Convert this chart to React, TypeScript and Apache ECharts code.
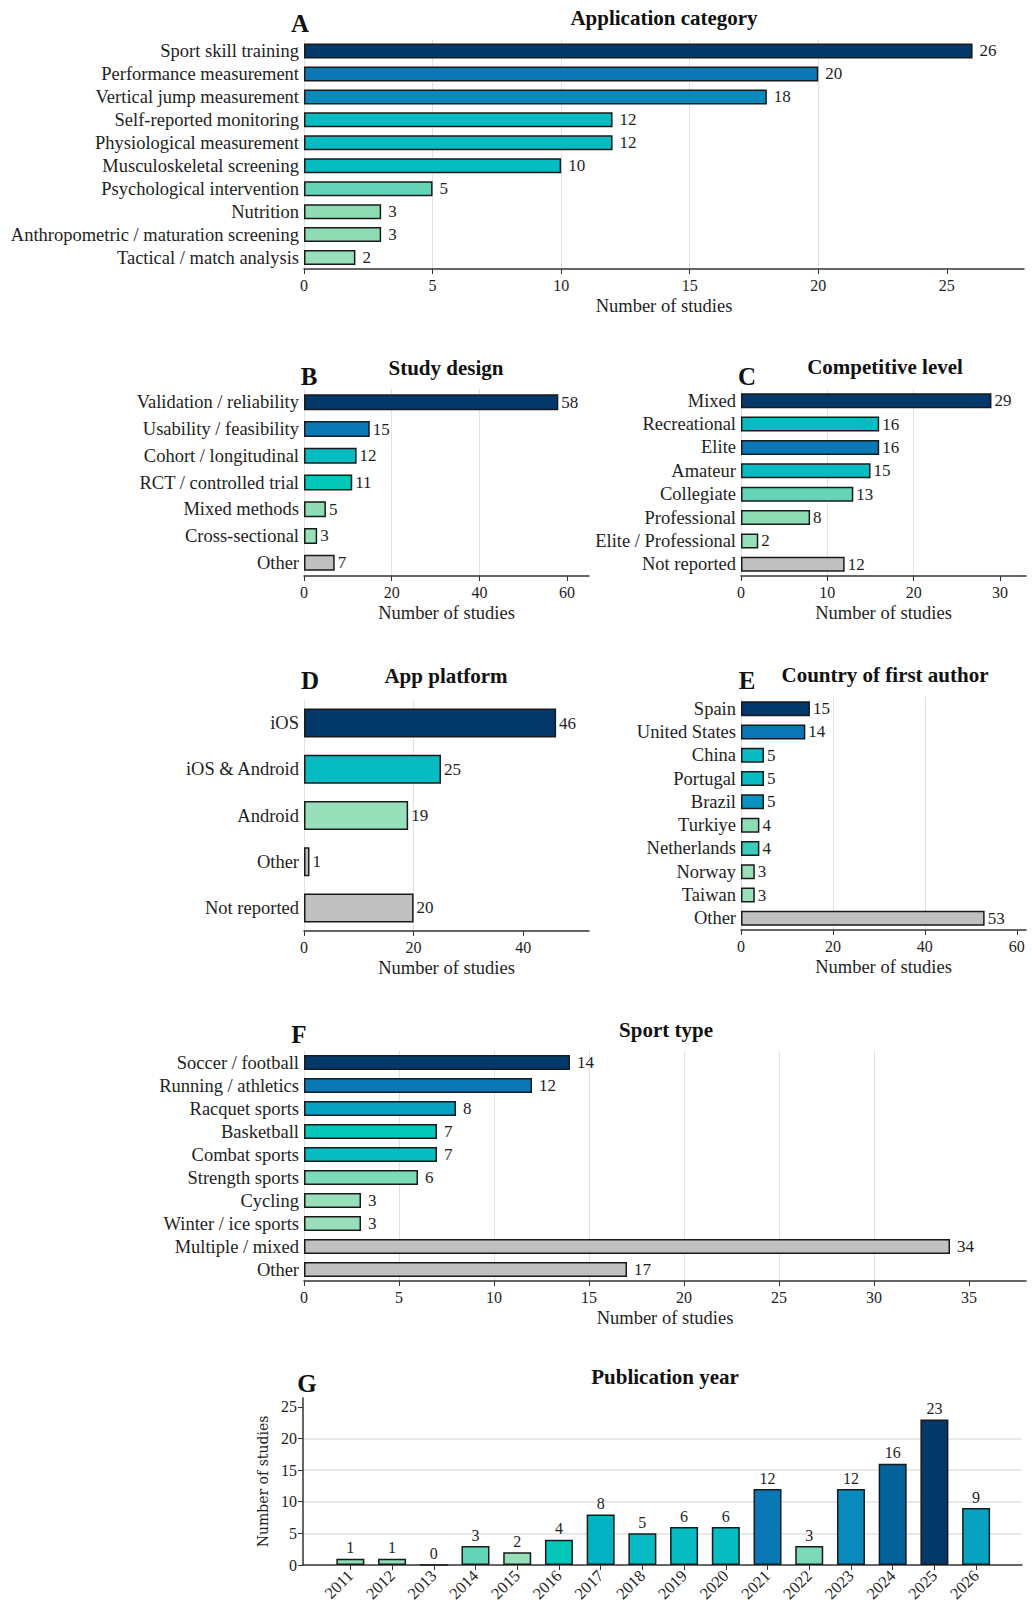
import { useEffect, useRef } from "react";
import * as echarts from "echarts";

// A — application category
const appCategories = [
  "Sport skill training",
  "Performance measurement",
  "Vertical jump measurement",
  "Self-reported monitoring",
  "Physiological measurement",
  "Musculoskeletal screening",
  "Psychological intervention",
  "Nutrition",
  "Anthropometric / maturation screening",
  "Tactical / match analysis",
];
const appCounts = [26, 20, 18, 12, 12, 10, 5, 3, 3, 2];
const appTicks = [0, 5, 10, 15, 20, 25];

// B — study design
const designCategories = [
  "Validation / reliability",
  "Usability / feasibility",
  "Cohort / longitudinal",
  "RCT / controlled trial",
  "Mixed methods",
  "Cross-sectional",
  "Other",
];
const designCounts = [58, 15, 12, 11, 5, 3, 7];
const designTicks = [0, 20, 40, 60];

// C — competitive level
const levelCategories = [
  "Mixed",
  "Recreational",
  "Elite",
  "Amateur",
  "Collegiate",
  "Professional",
  "Elite / Professional",
  "Not reported",
];
const levelCounts = [29, 16, 16, 15, 13, 8, 2, 12];
const levelTicks = [0, 10, 20, 30];

// D — app platform
const platformCategories = ["iOS", "iOS & Android", "Android", "Other", "Not reported"];
const platformCounts = [46, 25, 19, 1, 20];
const platformTicks = [0, 20, 40];

// E — country of first author
const countryCategories = [
  "Spain",
  "United States",
  "China",
  "Portugal",
  "Brazil",
  "Turkiye",
  "Netherlands",
  "Norway",
  "Taiwan",
  "Other",
];
const countryCounts = [15, 14, 5, 5, 5, 4, 4, 3, 3, 53];
const countryTicks = [0, 20, 40, 60];

// F — sport type
const sportCategories = [
  "Soccer / football",
  "Running / athletics",
  "Racquet sports",
  "Basketball",
  "Combat sports",
  "Strength sports",
  "Cycling",
  "Winter / ice sports",
  "Multiple / mixed",
  "Other",
];
const sportCounts = [14, 12, 8, 7, 7, 6, 3, 3, 34, 17];
const sportTicks = [0, 5, 10, 15, 20, 25, 30, 35];

// G — publication year
const years = [
  "2011", "2012", "2013", "2014", "2015", "2016", "2017", "2018",
  "2019", "2020", "2021", "2022", "2023", "2024", "2025", "2026",
];
const yearCounts = [1, 1, 0, 3, 2, 4, 8, 5, 6, 6, 12, 3, 12, 16, 23, 9];
const yearTicks = [0, 5, 10, 15, 20, 25];

// palette
const NAVY = "#03386b";
const DEEP = "#04629a";
const BLUE = "#0a78b4";
const BLUE_MID = "#0a89bd";
const BLUE_LIGHT = "#0a93bf";
const CYAN = "#07a2c2";
const TEAL_2017 = "#03b3c2";
const TEAL = "#06bcc2";
const TEAL_GREEN = "#02c7b9";
const AQUA = "#3ccbbb";
const MINT = "#64d4b9";
const MINT_2 = "#7ddab8";
const GREEN = "#8ddcb4";
const GREEN_LIGHT = "#97e0b9";
const GRAY = "#c0c0c0";

const appColors = [NAVY, BLUE, BLUE_MID, TEAL, TEAL, TEAL, MINT, GREEN, GREEN, GREEN_LIGHT];
const designColors = [NAVY, BLUE, TEAL, TEAL_GREEN, GREEN, GREEN_LIGHT, GRAY];
const levelColors = [NAVY, TEAL, BLUE, TEAL, MINT, GREEN, GREEN_LIGHT, GRAY];
const platformColors = [NAVY, TEAL, GREEN_LIGHT, GRAY, GRAY];
const countryColors = [NAVY, BLUE, TEAL, TEAL, BLUE_LIGHT, GREEN, AQUA, GREEN_LIGHT, GREEN_LIGHT, GRAY];
const sportColors = [NAVY, BLUE, CYAN, TEAL_GREEN, TEAL, MINT_2, GREEN_LIGHT, GREEN_LIGHT, GRAY, GRAY];
const yearColors = [
  GREEN, GREEN, GREEN, MINT, GREEN_LIGHT, TEAL_GREEN, TEAL_2017, TEAL,
  TEAL, TEAL, BLUE, MINT_2, BLUE_MID, DEEP, NAVY, CYAN,
];

const FONT = "Liberation Serif";
const INK = "#1e1e1e";
const AXIS = "#333";
const GRID = "#e2e2e2";
const EDGE = "#1a1a1a";

type Panel = {
  cats: string[];
  vals: number[];
  colors: string[];
  ticks: number[];
  max: number;
  interval: number;
  grid: { left: number; top: number; width: number; height: number };
  barWidth: number;
  labelGap: number;
};

const panels: Panel[] = [
  { cats: appCategories, vals: appCounts, colors: appColors, ticks: appTicks, max: 28, interval: 5,
    grid: { left: 304, top: 39.5, width: 720, height: 229.5 }, barWidth: 15, labelGap: 7 },
  { cats: designCategories, vals: designCounts, colors: designColors, ticks: designTicks, max: 65, interval: 20,
    grid: { left: 304, top: 389, width: 285, height: 187 }, barWidth: 16, labelGap: 3 },
  { cats: levelCategories, vals: levelCounts, colors: levelColors, ticks: levelTicks, max: 33, interval: 10,
    grid: { left: 741, top: 389, width: 285, height: 187 }, barWidth: 15, labelGap: 3 },
  { cats: platformCategories, vals: platformCounts, colors: platformColors, ticks: platformTicks, max: 52, interval: 20,
    grid: { left: 304, top: 700, width: 285, height: 231 }, barWidth: 29, labelGap: 3 },
  { cats: countryCategories, vals: countryCounts, colors: countryColors, ticks: countryTicks, max: 62, interval: 20,
    grid: { left: 741, top: 697, width: 285, height: 233 }, barWidth: 15, labelGap: 3 },
  { cats: sportCategories, vals: sportCounts, colors: sportColors, ticks: sportTicks, max: 38, interval: 5,
    grid: { left: 304, top: 1051, width: 722, height: 230 }, barWidth: 15, labelGap: 7 },
];

const headings = [
  { text: "Application category", x: 664, y: 19 },
  { text: "Study design", x: 446, y: 369 },
  { text: "Competitive level", x: 885, y: 368 },
  { text: "App platform", x: 446, y: 677 },
  { text: "Country of first author", x: 885, y: 676 },
  { text: "Sport type", x: 666, y: 1031 },
  { text: "Publication year", x: 665, y: 1378 },
];
const letters = [
  { text: "A", x: 300, y: 25 },
  { text: "B", x: 309, y: 378 },
  { text: "C", x: 747, y: 378 },
  { text: "D", x: 310, y: 682 },
  { text: "E", x: 747, y: 682 },
  { text: "F", x: 299, y: 1036 },
  { text: "G", x: 307, y: 1385 },
];

export default function App() {
  const ref = useRef<HTMLDivElement>(null);

  useEffect(() => {
    document.body.style.margin = "0";
    if (!ref.current) return;
    const chart = echarts.init(ref.current, undefined, { renderer: "svg" });

    const grids: any[] = [];
    const xAxes: any[] = [];
    const yAxes: any[] = [];
    const series: any[] = [];

    panels.forEach((p, i) => {
      grids.push({ ...p.grid, containLabel: false });
      xAxes.push({
        type: "value",
        gridIndex: i,
        min: 0,
        max: p.max,
        interval: p.interval,
        name: "Number of studies",
        nameLocation: "middle",
        nameGap: 27,
        nameTextStyle: { fontFamily: FONT, fontSize: 18.5, color: INK },
        axisLine: { show: true, lineStyle: { color: AXIS, width: 1.5 } },
        axisTick: { show: true, length: 5, customValues: p.ticks, lineStyle: { color: AXIS } },
        axisLabel: { customValues: p.ticks, margin: 8, fontFamily: FONT, fontSize: 16, color: INK },
        splitLine: { show: true, showMaxLine: false, lineStyle: { color: GRID, width: 1 } },
      });
      yAxes.push({
        type: "category",
        gridIndex: i,
        data: p.cats,
        inverse: true,
        axisLine: { show: false },
        axisTick: { show: false },
        axisLabel: { margin: 5, fontFamily: FONT, fontSize: 18.5, color: INK, interval: 0 },
        splitLine: { show: false },
      });
      series.push({
        type: "bar",
        xAxisIndex: i,
        yAxisIndex: i,
        barWidth: p.barWidth,
        data: p.vals.map((v, j) => ({ value: v, itemStyle: { color: p.colors[j] } })),
        itemStyle: { borderColor: EDGE, borderWidth: 1.5 },
        label: {
          show: true,
          position: "right",
          distance: p.labelGap,
          fontFamily: FONT,
          fontSize: 17,
          color: INK,
        },
      });
    });

    // G — vertical bars on a value x axis so the padding matches the figure
    const gi = panels.length;
    grids.push({ left: 303, top: 1398, width: 719, height: 167, containLabel: false });
    xAxes.push({
      type: "value",
      gridIndex: gi,
      min: -1.135,
      max: 16.1,
      axisLine: { show: true, onZero: false, lineStyle: { color: AXIS, width: 1.5 } },
      axisTick: { show: true, length: 5, customValues: years.map((_, i) => i), lineStyle: { color: AXIS } },
      axisLabel: {
        customValues: years.map((_, i) => i),
        formatter: (v: number) => years[Math.round(v)] ?? "",
        rotate: 45,
        margin: 8,
        fontFamily: FONT,
        fontSize: 16.5,
        color: INK,
      },
      splitLine: { show: false },
    });
    yAxes.push({
      type: "value",
      gridIndex: gi,
      min: 0,
      max: 26.4,
      interval: 5,
      name: "Number of studies",
      nameLocation: "middle",
      nameGap: 31,
      nameTextStyle: { fontFamily: "DejaVu Serif", fontSize: 14, color: INK },
      axisLine: { show: true, onZero: false, lineStyle: { color: AXIS, width: 1.5 } },
      axisTick: { show: true, length: 5, customValues: yearTicks, lineStyle: { color: AXIS } },
      axisLabel: { customValues: yearTicks, margin: 6, fontFamily: FONT, fontSize: 16, color: INK },
      splitLine: { show: true, showMinLine: false, showMaxLine: false, lineStyle: { color: GRID, width: 1.5 } },
    });
    series.push({
      type: "bar",
      xAxisIndex: gi,
      yAxisIndex: gi,
      barWidth: 28,
      data: yearCounts.map((v, i) => ({ value: [i, v], itemStyle: { color: yearColors[i] } })),
      itemStyle: { borderColor: EDGE, borderWidth: 1.5 },
      label: {
        show: true,
        position: "top",
        distance: 3,
        formatter: (p: any) => String(p.value[1]),
        fontFamily: FONT,
        fontSize: 16,
        color: INK,
      },
    });

    const titles = [
      ...headings.map((h) => ({
        text: h.text,
        left: h.x,
        top: h.y - 12,
        textAlign: "center",
        padding: 0,
        textStyle: { fontFamily: FONT, fontSize: 21, fontWeight: "bold", color: "#111" },
      })),
      ...letters.map((l) => ({
        text: l.text,
        left: l.x,
        top: l.y - 14,
        textAlign: "center",
        padding: 0,
        textStyle: { fontFamily: FONT, fontSize: 25, fontWeight: "bold", color: "#111" },
      })),
    ];

    chart.setOption({
      animation: false,
      backgroundColor: "#ffffff",
      textStyle: { fontFamily: FONT },
      title: titles,
      grid: grids,
      xAxis: xAxes,
      yAxis: yAxes,
      series,
    });

    const resize = () => chart.resize();
    window.addEventListener("resize", resize);
    return () => {
      window.removeEventListener("resize", resize);
      chart.dispose();
    };
  }, []);

  return <div ref={ref} style={{ width: 1032, height: 1620 }} />;
}
